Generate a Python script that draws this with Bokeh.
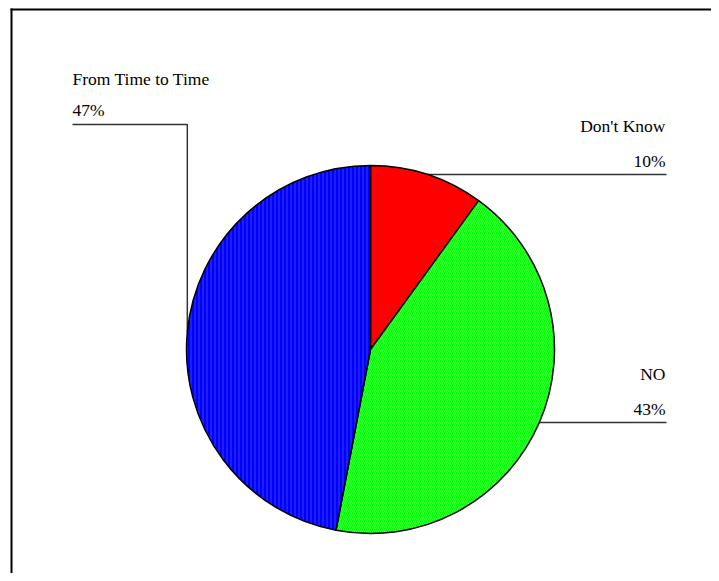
import math
from bokeh.plotting import figure
from bokeh.models import Range1d, ColumnDataSource
from bokeh.core.properties import value
from bokeh.embed import file_html
from bokeh.resources import INLINE

# ---- data ----
labels = ["Don't Know", "NO", "From Time to Time"]
values = [10, 43, 47]
pct_labels = ["10%", "43%", "47%"]
colors = ["#FF0000", "#00FF00", "#0000FF"]
hatch_patterns = [" ", "/", "|"]
hatch_colors = ["#FF6060", "#70FF70", "#6060FF"]

# ---- layout (image pixel coordinates; y_data = 581 - y_img) ----
W, H = 711, 573
def Y(yimg):
    return 581 - yimg

cx, cy, r = 370, Y(349), 184
FONT = value("Liberation Serif")
FS = "17.5px"
TXT_UP = 6  # baseline correction

p = figure(width=W, height=H, output_backend="svg", toolbar_location=None,
           x_axis_type=None, y_axis_type=None,
           x_range=Range1d(0, 711), y_range=Range1d(8, 581),
           min_border=0, outline_line_color=None)
p.grid.visible = False
p.background_fill_color = "white"
p.border_fill_color = "white"

# frame (left and top edges visible)
p.segment(x0=[11, 10], y0=[Y(8), Y(9)], x1=[11, 719], y1=[Y(581), Y(9)],
          line_color="black", line_width=2)

# wedges
total = float(sum(values))
starts, ends, mids = [], [], []
cum = 0.0
for v in values:
    a0 = math.pi / 2 - 2 * math.pi * cum / total
    a1 = math.pi / 2 - 2 * math.pi * (cum + v) / total
    starts.append(a0)
    ends.append(a1)
    mids.append((a0 + a1) / 2)
    cum += v

# leader lines and labels
xs, ys = [], []
tx, ty, tt, talign = [], [], [], []
RIGHT_END = 666
LEFT_X = 72
LEFT_LINE_Y = Y(124)
for lab, pct, m in zip(labels, pct_labels, mids):
    ax = cx + r * math.cos(m)
    ay = cy + r * math.sin(m)
    if ax >= cx:
        xs.append([ax, RIGHT_END])
        ys.append([ay, ay])
        tx += [RIGHT_END - 1, RIGHT_END - 1]
        ty += [ay + 8 + TXT_UP, ay + 43 + TXT_UP]
        tt += [pct, lab]
        talign += ["right", "right"]
    else:
        xs.append([LEFT_X, ax, ax])
        ys.append([LEFT_LINE_Y, LEFT_LINE_Y, ay])
        tx += [LEFT_X, LEFT_X]
        ty += [LEFT_LINE_Y + 8.5 + TXT_UP, LEFT_LINE_Y + 40 + TXT_UP]
        tt += [pct, lab]
        talign += ["left", "left"]

p.multi_line(xs=xs, ys=ys, line_color="#333333", line_width=1.5)

src = ColumnDataSource(dict(start=starts, end=ends, color=colors,
                            hatch=hatch_patterns, hcolor=hatch_colors))
p.wedge(x=cx, y=cy, radius=r, start_angle="start", end_angle="end",
        direction="clock", fill_color="color", line_color="black",
        line_width=1.5, hatch_pattern="hatch", hatch_color="hcolor",
        hatch_scale=4, hatch_weight=1, hatch_alpha=0.6, source=src)

tsrc = ColumnDataSource(dict(x=tx, y=ty, t=tt, a=talign))
p.text(x="x", y="y", text="t", text_align="a", text_baseline="alphabetic",
       text_font=FONT, text_font_size=FS, text_color="#000000", source=tsrc)

open("out.html", "w").write(file_html(p, INLINE))
